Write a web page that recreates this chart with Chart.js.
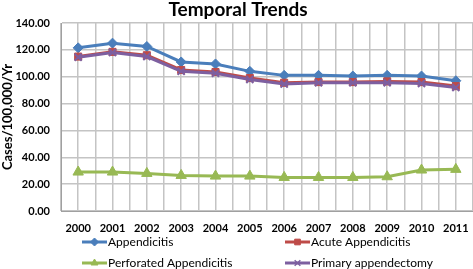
<!DOCTYPE html>
<html>
<head>
<meta charset="utf-8">
<script src="https://cdn.jsdelivr.net/npm/chart.js@4"></script>
<style>
  html, body { margin: 0; padding: 0; background: #fff; overflow: hidden; }
  canvas { display: block; }
</style>
</head>
<body>
<canvas id="trendChart" width="473" height="269"></canvas>
<script>
var years = ['2000', '2001', '2002', '2003', '2004', '2005', '2006', '2007', '2008', '2009', '2010', '2011'];
var appendicitis = [121.5, 125.0, 122.5, 111.0, 109.5, 104.0, 101.0, 101.0, 100.5, 101.0, 100.5, 97.0];
var acuteAppendicitis = [115.0, 118.5, 116.0, 105.0, 103.5, 99.0, 95.5, 96.0, 96.0, 96.5, 96.0, 93.0];
var perforatedAppendicitis = [29.0, 29.0, 28.0, 26.5, 26.0, 26.0, 25.0, 25.0, 25.0, 25.5, 30.5, 31.0];
var primaryAppendectomy = [114.5, 118.0, 115.0, 104.0, 102.5, 98.0, 94.5, 95.5, 95.5, 95.5, 95.0, 92.0];
var yTicks = [0, 20, 40, 60, 80, 100, 120, 140];

var fontFam = 'Lato, "Open Sans", sans-serif';

function toPoints(arr) {
    return arr.map(function (v, i) { return { x: i, y: v }; });
}

// title + two-column legend drawn on the canvas
var extrasPlugin = {
    id: 'extras',
    afterDraw: function (chart) {
        var c = chart.ctx;
        c.save();
        c.fillStyle = '#000';
        c.font = 'bold 19px ' + fontFam;
        c.textAlign = 'center';
        c.textBaseline = 'middle';
        c.fillText('Temporal Trends', 238, 10);

        var slots = [[82, 242], [285, 242], [82, 263], [285, 263]];
        chart.data.datasets.forEach(function (ds, k) {
            var sx = slots[k][0], sy = slots[k][1];
            c.strokeStyle = ds.borderColor;
            c.fillStyle = ds.borderColor;
            c.lineWidth = 3;
            c.beginPath();
            c.moveTo(sx, sy);
            c.lineTo(sx + 25, sy);
            c.stroke();
            c.lineWidth = ds.pointStyle === 'crossRot' ? 1.5 : 1;
            Chart.helpers.drawPoint(c, {
                pointStyle: ds.pointStyle,
                radius: 4,
                rotation: 0,
                borderWidth: c.lineWidth
            }, sx + 12.5, sy);
            c.fillStyle = '#000';
            c.font = '12px ' + fontFam;
            c.textAlign = 'left';
            c.fillText(ds.label, sx + 26, sy);
        });
        c.restore();
    }
};

function makeDs(label, values, color, style, radius, ord) {
    return {
        label: label,
        data: toPoints(values),
        borderColor: color,
        backgroundColor: color,
        pointBackgroundColor: color,
        pointBorderColor: color,
        pointStyle: style,
        pointRadius: radius,
        pointBorderWidth: style === 'crossRot' ? 2 : 1,
        borderWidth: 3,
        tension: 0,
        order: ord
    };
}

var ctx = document.getElementById('trendChart').getContext('2d');
var trendChart = new Chart(ctx, {
    type: 'line',
    data: {
        datasets: [
            makeDs('Appendicitis', appendicitis, '#4a7ebb', 'rectRot', 5, 4),
            makeDs('Acute Appendicitis', acuteAppendicitis, '#be4b48', 'rect', 5, 3),
            makeDs('Perforated Appendicitis', perforatedAppendicitis, '#98b954', 'triangle', 6, 2),
            makeDs('Primary appendectomy', primaryAppendectomy, '#7d5fa0', 'crossRot', 5, 1)
        ]
    },
    options: {
        responsive: false,
        animation: false,
        layout: { autoPadding: false, padding: { top: 23, right: 0, bottom: 0, left: 0 } },
        plugins: {
            legend: { display: false },
            title: { display: false },
            tooltip: { enabled: false }
        },
        scales: {
            x: {
                type: 'linear',
                min: -0.5,
                max: 11.5,
                afterBuildTicks: function (scale) {
                    var t = [];
                    for (var i = 0; i <= years.length * 2; i++) {
                        t.push({ value: -0.5 + i * 0.5 });
                    }
                    scale.ticks = t;
                },
                afterFit: function (scale) {
                    scale.height = 58;
                    scale.paddingLeft = 0;
                    scale.paddingRight = 0;
                },
                grid: { color: '#c4c4c4', lineWidth: 1.5, drawTicks: false },
                border: { color: '#a0a0a0', width: 1 },
                ticks: {
                    autoSkip: false,
                    maxRotation: 0,
                    padding: 11,
                    color: '#000',
                    font: { family: fontFam, size: 11, weight: 'bold' },
                    callback: function (v) {
                        return Number.isInteger(v) ? years[v] : '';
                    }
                }
            },
            y: {
                min: 0,
                max: 140,
                afterBuildTicks: function (scale) {
                    scale.ticks = yTicks.map(function (v) { return { value: v }; });
                },
                afterFit: function (scale) { scale.width = 61; },
                grid: { color: '#c4c4c4', lineWidth: 1.5, drawTicks: false },
                border: { color: '#a0a0a0', width: 1 },
                title: {
                    display: true,
                    text: 'Cases/100,000/Yr',
                    color: '#000',
                    font: { family: fontFam, size: 13, weight: 'bold' },
                    padding: { top: 0, bottom: 0 }
                },
                ticks: {
                    padding: 11,
                    color: '#000',
                    font: { family: fontFam, size: 11, weight: 'bold' },
                    callback: function (v) { return v.toFixed(2); }
                }
            }
        }
    },
    plugins: [extrasPlugin]
});
</script>
</body>
</html>
